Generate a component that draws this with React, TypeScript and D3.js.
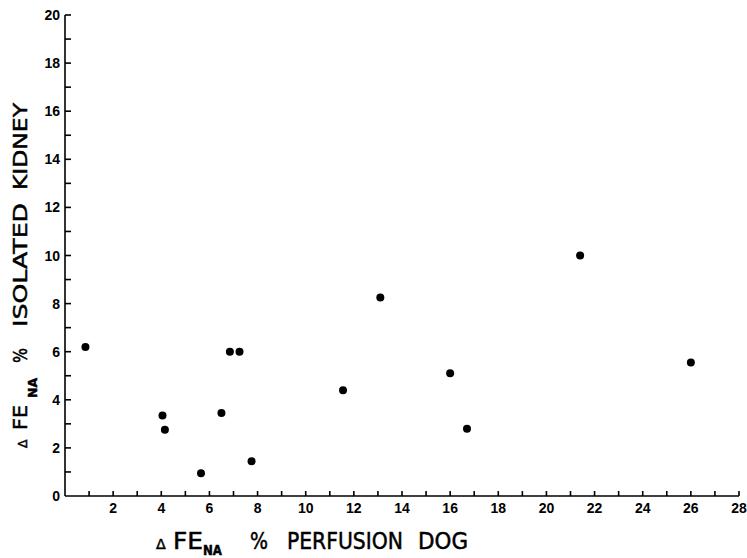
import React from 'react';
import * as d3 from 'd3';

const WIDTH = 747;
const HEIGHT = 558;

// delta FE_NA % in the perfused dog vs. the isolated kidney
const dogValues = [0.85, 4.05, 4.15, 5.65, 6.5, 6.85, 7.25, 7.75, 11.55, 13.1, 16.0, 16.7, 21.4, 26.0];
const kidneyValues = [6.2, 3.35, 2.75, 0.95, 3.45, 6.0, 6.0, 1.45, 4.4, 8.25, 5.1, 2.8, 10.0, 5.55];

const xTickLabels = [2, 4, 6, 8, 10, 12, 14, 16, 18, 20, 22, 24, 26, 28];
const yTickLabels = [0, 2, 4, 6, 8, 10, 12, 14, 16, 18, 20];

const margin = {top: 15, right: 8, bottom: 62, left: 65};

const tickFont = '"Liberation Sans", Arial, sans-serif';
const titleFont = '"DejaVu Sans", sans-serif';

// word pieces of an axis title: start offset and drawn length along the axis
interface ITitlePart {
    text: string;
    at: number;
    len: number;
}

const AxisTitle = ({parts, size, subShift}: {parts: ITitlePart[]; size: number; subShift: number}) => (
    <>
        <tspan x={parts[0].at} fontSize={size * 0.62}>Δ</tspan>
        <tspan x={parts[1].at} fontSize={size} textLength={parts[1].len}
               lengthAdjust="spacingAndGlyphs">FE</tspan>
        <tspan x={parts[2].at} dy={subShift} fontSize={size * 0.6} fontWeight="bold"
               textLength={parts[2].len} lengthAdjust="spacingAndGlyphs">NA</tspan>
        {parts.slice(3).map((p, i) => (
            <tspan key={p.text} x={p.at} dy={i === 0 ? -subShift : 0} fontSize={size}
                   textLength={p.len} lengthAdjust="spacingAndGlyphs">{p.text}</tspan>
        ))}
    </>
);

const xTitleParts: ITitlePart[] = [
    {text: 'Δ', at: 156, len: 12},
    {text: 'FE', at: 173, len: 30},
    {text: 'NA', at: 203, len: 19},
    {text: '%', at: 250, len: 18},
    {text: 'PERFUSION', at: 287, len: 116},
    {text: 'DOG', at: 418, len: 50},
];

// rotated title: offsets are negative page y
const yTitleParts: ITitlePart[] = [
    {text: 'Δ', at: -448, len: 9},
    {text: 'FE', at: -430, len: 25},
    {text: 'NA', at: -398, len: 20},
    {text: '%', at: -363, len: 15},
    {text: 'ISOLATED', at: -327, len: 124},
    {text: 'KIDNEY', at: -190, len: 87},
];

export default function App() {
    const x = d3.scaleLinear().domain([0, 28]).range([margin.left, WIDTH - margin.right]);
    const y = d3.scaleLinear().domain([0, 20]).range([HEIGHT - margin.bottom, margin.top]);

    const x0 = x(0);
    const y0 = y(0);
    const minorX = d3.range(1, 29);
    const minorY = d3.range(1, 21);

    return (
        <svg width={WIDTH} height={HEIGHT}
             style={{position: 'absolute', left: 0, top: 0, background: 'white'}}>
            <g stroke="black" strokeWidth={1.6} fill="none">
                <line x1={x0} x2={x(28)} y1={y0} y2={y0}/>
                <line x1={x0} x2={x0} y1={y0} y2={y(20)}/>
                {minorX.map(t => (
                    <line key={`xt${t}`} x1={x(t)} x2={x(t)} y1={y0} y2={y0 - 5}/>
                ))}
                {minorY.map(t => (
                    <line key={`yt${t}`} x1={x0} x2={x0 + 6} y1={y(t)} y2={y(t)}/>
                ))}
            </g>

            <g fontFamily={tickFont} fontSize={14} fontWeight="bold" fill="black">
                {xTickLabels.map(t => (
                    <text key={`xl${t}`} x={x(t)} y={y0 + 17} textAnchor="middle">{t}</text>
                ))}
                {yTickLabels.map(t => (
                    <text key={`yl${t}`} x={x0 - 5} y={y(t) + 5} textAnchor="end">{t}</text>
                ))}
            </g>

            <g fontFamily={titleFont} fill="black" stroke="black" strokeWidth={0.5}>
                <text y={549}>
                    <AxisTitle parts={xTitleParts} size={23} subShift={6}/>
                </text>
                <text transform="translate(27, 0) rotate(-90)" y={0}>
                    <AxisTitle parts={yTitleParts} size={20} subShift={10}/>
                </text>
            </g>

            <g fill="black">
                {dogValues.map((d, i) => (
                    <circle key={i} cx={x(d)} cy={y(kidneyValues[i])} r={4}/>
                ))}
            </g>
        </svg>
    );
}
